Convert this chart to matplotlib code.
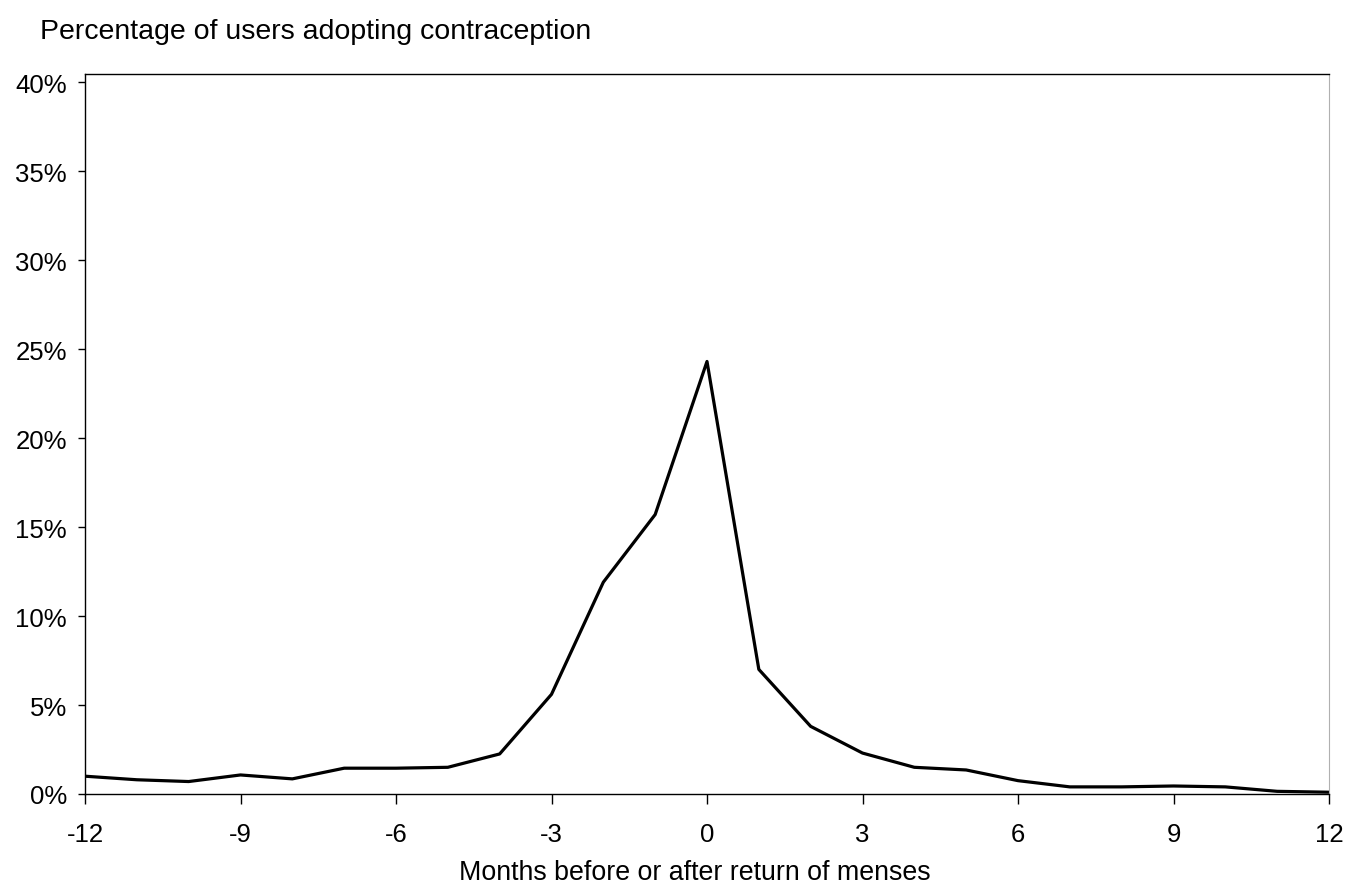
import matplotlib
matplotlib.use("Agg")
import matplotlib.pyplot as plt
from matplotlib.ticker import FuncFormatter

# months relative to return of menses
months = list(range(-12, 13))
# percentage of users adopting contraception
pct = [1.0, 0.8, 0.7, 1.07, 0.85, 1.45, 1.45, 1.5, 2.25, 5.6, 11.9, 15.7, 24.3,
       7.0, 3.8, 2.3, 1.5, 1.35, 0.75, 0.4, 0.4, 0.45, 0.4, 0.15, 0.1]

xticks = list(range(-12, 13, 3))
yticks = [0, 5, 10, 15, 20, 25, 30, 35, 40]

plt.rcParams['font.family'] = ['Liberation Sans', 'DejaVu Sans']
plt.rcParams['axes.unicode_minus'] = False

fig = plt.figure(figsize=(13.49, 8.87), dpi=100)
ax = fig.add_axes([85/1349, 1-795/887, (1329-85)/1349, (795-75)/887])

ax.plot(months, pct, color='black', linewidth=2.3)

ax.set_xlim(-12, 12)
ax.set_ylim(0, 40.45)
ax.set_xticks(xticks)
ax.set_yticks(yticks)
ax.yaxis.set_major_formatter(FuncFormatter(lambda v, p: "%d%%" % v))

ax.tick_params(axis='x', direction='out', length=7, width=1, labelsize=18.5, pad=13)
ax.tick_params(axis='y', direction='out', length=5, width=1, labelsize=18.5, pad=8)

for s in ['left', 'bottom', 'top']:
    ax.spines[s].set_linewidth(1)
    ax.spines[s].set_color('black')
ax.spines['right'].set_color('#b0b0b0')
ax.spines['right'].set_linewidth(0.8)

ax.set_xlabel("Months before or after return of menses", fontsize=19.3)
ax.xaxis.set_label_coords((695-85)/1244, -(873-795)/720, transform=ax.transAxes)
ax.xaxis.label.set_va('center')
fig.text(40/1349, 1-32/887, "Percentage of users adopting contraception",
         fontsize=20.5, ha='left', va='center')

fig.savefig("out.png", dpi=100)
